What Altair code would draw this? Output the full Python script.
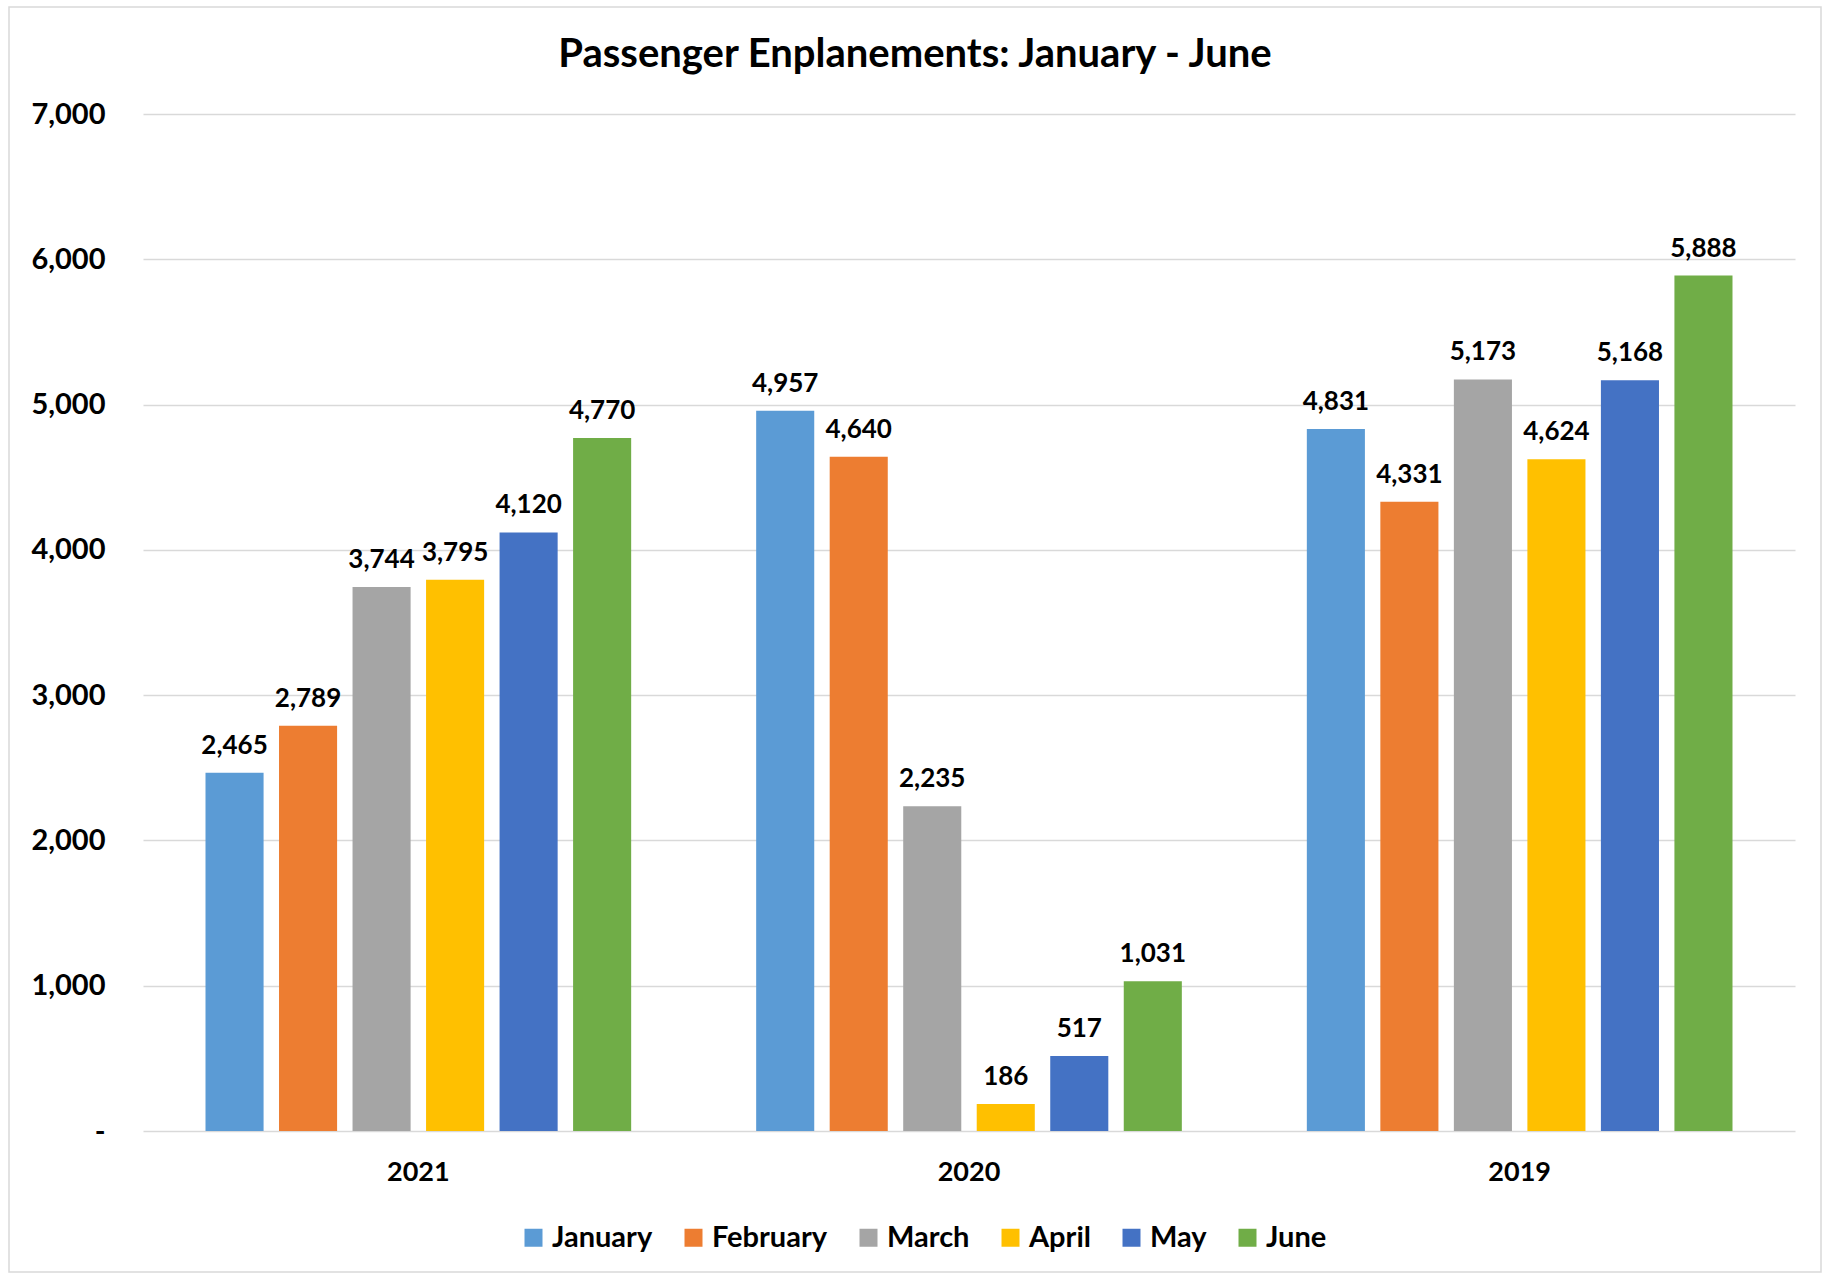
import altair as alt
import pandas as pd

# Source values
years = ["2021", "2020", "2019"]
months = ["January", "February", "March", "April", "May", "June"]
month_colors = ["#5B9BD5", "#ED7D31", "#A5A5A5", "#FFC000", "#4472C4", "#70AD47"]
enpl_2021 = [2465, 2789, 3744, 3795, 4120, 4770]
enpl_2020 = [4957, 4640, 2235, 186, 517, 1031]
enpl_2019 = [4831, 4331, 5173, 4624, 5168, 5888]
y_ticks = [0, 1000, 2000, 3000, 4000, 5000, 6000, 7000]

rows = []
for yr, vals in zip(years, [enpl_2021, enpl_2020, enpl_2019]):
    for m, v in zip(months, vals):
        rows.append({"year": yr, "month": m, "value": v})
df = pd.DataFrame(rows)

FONT = "Lato"
W, H = 1652, 1017
LEFT, TOP, RIGHT, BOTTOM = 143, 114, 33, 144

x = alt.X(
    "year:N",
    sort=years,
    scale=alt.Scale(paddingInner=0.227, paddingOuter=0.1135),
    axis=alt.Axis(
        title=None, labelAngle=0, domain=False, ticks=False, labelPadding=28,
        labelFontSize=27, labelFont=FONT, labelFontWeight="bold", labelColor="black",
    ),
)
xoff = alt.XOffset("month:N", sort=months, scale=alt.Scale(paddingInner=0.21, paddingOuter=0))
y = alt.Y(
    "value:Q",
    scale=alt.Scale(domain=[0, 7000], nice=False),
    axis=alt.Axis(
        title=None, values=y_ticks, domain=False, ticks=False, labelPadding=38,
        labelExpr="datum.value == 0 ? '-\u00a0\u00a0' : format(datum.value, ',')",
        labelFontSize=29, labelFont=FONT, labelFontWeight="bold", labelColor="black",
        gridColor="#d9d9d9", gridWidth=1.5,
    ),
)

base = alt.Chart(df)

bars = base.mark_bar().encode(
    x=x,
    xOffset=xoff,
    y=y,
    color=alt.Color(
        "month:N",
        sort=months,
        scale=alt.Scale(domain=months, range=month_colors),
        legend=alt.Legend(
            title=None, orient="none", legendX=376, legendY=1109, direction="horizontal",
            symbolType="square", symbolSize=324, symbolStrokeWidth=0,
            labelFontSize=29, labelFont=FONT, labelFontWeight="bold", labelColor="black",
            columnPadding=26, labelOffset=4,
        ),
    ),
)

labels = base.mark_text(
    dy=-19, baseline="alphabetic", fontSize=26, font=FONT, fontWeight="bold", color="black"
).encode(
    x=x,
    xOffset=xoff,
    y=y,
    text=alt.Text("value:Q", format=","),
)

frame = alt.Chart(alt.Data(values=[{"k": 1}])).mark_rect(
    fill="white", fillOpacity=0, stroke="#d9d9d9", strokeWidth=1.5
).encode(
    x=alt.value(9 - LEFT), x2=alt.value(1821 - LEFT),
    y=alt.value(7 - TOP), y2=alt.value(1272 - TOP),
)

chart = alt.layer(frame, bars, labels).properties(
    width=W,
    height=H,
    padding={"left": LEFT, "top": TOP, "right": RIGHT, "bottom": BOTTOM},
    autosize=alt.AutoSizeParams(type="none"),
    title=alt.TitleParams(
        "Passenger Enplanements: January - June",
        font=FONT, fontSize=40, fontWeight="bold", color="black",
        anchor="middle", dx=-54, baseline="alphabetic", offset=-101,
    ),
    background="white",
).configure_view(strokeWidth=0)

chart.save("out.html", embed_options={"renderer": "svg", "actions": False})
